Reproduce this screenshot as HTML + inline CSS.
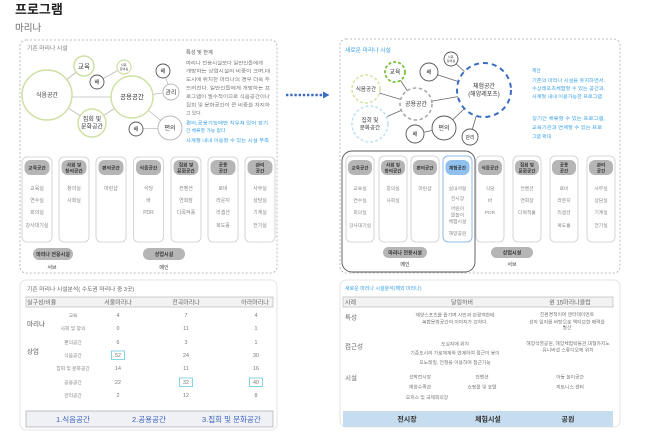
<!DOCTYPE html>
<html><head><meta charset="utf-8">
<style>
html,body{margin:0;padding:0;background:#fff;width:650px;height:433px;overflow:hidden}
svg{display:block}
text{font-family:"Liberation Sans","Noto Sans CJK KR",sans-serif}
</style></head>
<body>
<svg width="650" height="433" viewBox="0 0 650 433" xmlns="http://www.w3.org/2000/svg">
<rect width="650" height="433" fill="#fff"/>

<!-- Title -->
<text x="15" y="14" font-size="13" font-weight="bold" fill="#222">프로그램</text>
<text x="15" y="31" font-size="9.5" fill="#666">마리나</text>

<!-- Dashed boxes -->
<rect x="20" y="40" width="257" height="233" rx="6" fill="none" stroke="#aaa" stroke-width="0.8" stroke-dasharray="2,2"/>
<rect x="340" y="39" width="280" height="234" rx="6" fill="none" stroke="#aaa" stroke-width="0.8" stroke-dasharray="2,2"/>

<!-- Arrow -->
<line x1="286" y1="95" x2="323" y2="95" stroke="#3b6cc4" stroke-width="2.4" stroke-dasharray="2.4,1.8"/>
<polygon points="323,91.5 329.5,95 323,98.5" fill="#3b6cc4"/>

<!-- LEFT: label -->
<text x="27" y="50" font-size="5.8" fill="#777">기존 마리나 시설</text>

<!-- LEFT circles -->
<g stroke="#bbb" stroke-width="0.8">
<line x1="47" y1="95" x2="84" y2="66"/>
<line x1="47" y1="97" x2="132" y2="97"/>
<line x1="47" y1="95" x2="92" y2="123"/>
<line x1="92" y1="123" x2="132" y2="97"/>
<line x1="97" y1="82" x2="124" y2="67"/>
<line x1="132" y1="97" x2="171" y2="92"/>
<line x1="171" y1="92" x2="163" y2="71"/>
<line x1="132" y1="97" x2="170" y2="128"/>
<line x1="170" y1="128" x2="136" y2="129"/>
</g>
<g fill="#fff" stroke="#cfe0a6" stroke-width="1.5">
<circle cx="47" cy="95" r="25"/>
<circle cx="84" cy="66" r="10"/>
<circle cx="124" cy="67" r="7" stroke-width="1.2"/>
<circle cx="132" cy="97" r="21"/>
<circle cx="92" cy="123" r="14"/>
</g>
<g fill="#fff" stroke="#555" stroke-width="0.9">
<circle cx="97" cy="82" r="7"/>
<circle cx="163" cy="71" r="7"/>
<circle cx="136" cy="129" r="7"/>
</g>
<g fill="#fff" stroke="#bbb" stroke-width="1">
<circle cx="171" cy="92" r="8"/>
<circle cx="170" cy="128" r="12"/>
</g>
<g fill="#333" text-anchor="middle">
<text x="47" y="97" font-size="6">식음공간</text>
<text x="84" y="68.5" font-size="6.5">교육</text>
<text x="124" y="66" font-size="3">사회,</text>
<text x="124" y="70" font-size="3">창의실</text>
<text x="97" y="84" font-size="5.5">배</text>
<text x="132" y="99.2" font-size="6.5">공용공간</text>
<text x="92" y="121" font-size="6">집회 및</text>
<text x="92" y="128.5" font-size="6">문화공간</text>
<text x="163" y="73" font-size="5.5">배</text>
<text x="171" y="94.3" font-size="6">관리</text>
<text x="170" y="130.2" font-size="6">편의</text>
<text x="136" y="131" font-size="5.5">배</text>
</g>

<!-- LEFT paragraph -->
<text x="186" y="54" font-size="5.2" fill="#555">특성 및 한계</text>
<g font-size="4.8" fill="#777" lengthAdjust="spacingAndGlyphs">
<text x="186" y="64.3" textLength="77" lengthAdjust="spacingAndGlyphs">마리나 전용시설보다 일반인들에게</text>
<text x="186" y="72.7" textLength="84" lengthAdjust="spacingAndGlyphs">개방하는 상업시설의 비중이 크며,대</text>
<text x="186" y="81.1" textLength="84" lengthAdjust="spacingAndGlyphs">도시에 위치한 마리나의 경우 더욱 두</text>
<text x="186" y="89.5" textLength="84" lengthAdjust="spacingAndGlyphs">드러진다. 일반인들에게 개방하는 프</text>
<text x="186" y="97.9" textLength="84" lengthAdjust="spacingAndGlyphs">로그램이 필수적이므로 식음공간이나</text>
<text x="186" y="106.3" textLength="84" lengthAdjust="spacingAndGlyphs">집회 및 문화공간이 큰 비중을 차지하</text>
<text x="186" y="114.7">고 있다.</text>
</g>
<g font-size="4.8" fill="#3aa0e6">
<text x="186" y="124.3" textLength="82" lengthAdjust="spacingAndGlyphs">편의,공용기능에만 치우쳐 있어 장기</text>
<text x="186" y="132">간 체류할 가능 없다.</text>
<text x="186" y="142" textLength="83" lengthAdjust="spacingAndGlyphs">사계절 내내 이용할 수 있는 시설 부족</text>
</g>

<!-- LEFT columns -->
<g fill="#fff" stroke="#ccc" stroke-width="0.8">
<rect x="22" y="157" width="30" height="85" rx="5"/>
<rect x="59" y="157" width="30" height="85" rx="5"/>
<rect x="96" y="157" width="30" height="85" rx="5"/>
<rect x="133.5" y="157" width="30" height="85" rx="5"/>
<rect x="171" y="157" width="30" height="85" rx="5"/>
<rect x="208" y="157" width="30" height="85" rx="5"/>
<rect x="245" y="157" width="30" height="85" rx="5"/>
</g>
<g fill="#b5b5b5">
<rect x="24.5" y="160" width="25" height="15" rx="6"/>
<rect x="61.5" y="160" width="25" height="15" rx="6"/>
<rect x="98.5" y="160" width="25" height="15" rx="6"/>
<rect x="136" y="160" width="25" height="15" rx="6"/>
<rect x="173.5" y="160" width="25" height="15" rx="6"/>
<rect x="210.5" y="160" width="25" height="15" rx="6"/>
<rect x="247.5" y="160" width="25" height="15" rx="6"/>
</g>
<g fill="#333" font-size="4.8" font-weight="bold" text-anchor="middle">
<text x="37" y="169.5">교육공간</text>
<text x="74" y="166.5">사회 및</text><text x="74" y="172.5">창의공간</text>
<text x="111" y="169.5">편의공간</text>
<text x="148.5" y="169.5">식음공간</text>
<text x="186" y="166.5">집회 및</text><text x="186" y="172.5">문화공간</text>
<text x="223" y="166.5">공용</text><text x="223" y="172.5">공간</text>
<text x="260" y="166.5">관리</text><text x="260" y="172.5">공간</text>
</g>
<g fill="#888" font-size="5" text-anchor="middle">
<text x="37" y="190">교육실</text><text x="37" y="202">연수실</text><text x="37" y="214">회의실</text><text x="37" y="227">강사대기실</text>
<text x="74" y="190">창의실</text><text x="74" y="202">사회실</text>
<text x="111" y="190">마린샵</text>
<text x="148.5" y="190">식당</text><text x="148.5" y="202">바</text><text x="148.5" y="214">PDR</text>
<text x="186" y="190">컨벤션</text><text x="186" y="202">연회장</text><text x="186" y="214">다목적홀</text>
<text x="223" y="190">로비</text><text x="223" y="202">라운지</text><text x="223" y="214">리셉션</text><text x="223" y="227">복도홀</text>
<text x="260" y="190">사무실</text><text x="260" y="202">상담실</text><text x="260" y="214">기계실</text><text x="260" y="227">전기실</text>
</g>
<rect x="33" y="248" width="40" height="12" rx="6" fill="#b5b5b5"/>
<rect x="143" y="248" width="42" height="12" rx="6" fill="#b5b5b5"/>
<g fill="#333" font-size="5" text-anchor="middle">
<text x="53" y="255.8" font-weight="bold">마리나 전용시설</text>
<text x="164" y="255.8" font-weight="bold">상업시설</text>
<text x="52" y="269">서브</text>
<text x="164" y="269">메인</text>
</g>

<!-- RIGHT: label -->
<text x="345" y="52" font-size="5.8" fill="#3aa0e6">새로운 마리나 시설</text>

<!-- RIGHT circles -->
<g stroke="#666" stroke-width="0.8">
<line x1="416" y1="104" x2="395" y2="72"/>
<line x1="416" y1="104" x2="366" y2="89"/>
<line x1="416" y1="104" x2="370" y2="124"/>
<line x1="416" y1="104" x2="484" y2="92"/>
<line x1="429" y1="72" x2="484" y2="90"/>
<line x1="451" y1="59" x2="484" y2="90"/>
<line x1="444" y1="128" x2="484" y2="90"/>
<line x1="444" y1="128" x2="415" y2="134"/>
<line x1="470" y1="137" x2="484" y2="90"/>
</g>
<g fill="#fff">
<circle cx="395" cy="72" r="10" stroke="#7cc142" stroke-width="1.8" stroke-dasharray="3,2"/>
<circle cx="366" cy="89" r="14" stroke="#d4e6a8" stroke-width="1.6" stroke-dasharray="3,2"/>
<circle cx="370" cy="124" r="18" stroke="#c2e4f2" stroke-width="1.6" stroke-dasharray="3,2"/>
<circle cx="416" cy="104" r="16" stroke="#aaa" stroke-width="1.6" stroke-dasharray="3.5,2.5"/>
<circle cx="484" cy="90" r="27" stroke="#3b6cc4" stroke-width="2" stroke-dasharray="5,4"/>
</g>
<g fill="#fff" stroke="#555" stroke-width="0.9">
<circle cx="429" cy="72" r="9"/>
<circle cx="451" cy="59" r="7"/>
<circle cx="444" cy="128" r="12"/>
<circle cx="415" cy="134" r="9"/>
<circle cx="470" cy="137" r="8"/>
</g>
<g fill="#333" text-anchor="middle">
<text x="395" y="74" font-size="6">교육</text>
<text x="366" y="91" font-size="5.5">식음공간</text>
<text x="370" y="122" font-size="5.5">집회 및</text>
<text x="370" y="129.5" font-size="5.5">문화공간</text>
<text x="416" y="106" font-size="6">공용공간</text>
<text x="484" y="88" font-size="6">체험공간</text>
<text x="484" y="96" font-size="6">(해양레포츠)</text>
<text x="429" y="74" font-size="5.5">배</text>
<text x="451" y="58" font-size="3">사회,</text>
<text x="451" y="62" font-size="3">창의실</text>
<text x="444" y="130" font-size="6">편의</text>
<text x="415" y="136" font-size="5.5">배</text>
<text x="470" y="139" font-size="5">관리</text>
</g>

<!-- RIGHT paragraph -->
<g font-size="4.8" fill="#3aa0e6">
<text x="532" y="72">제안</text>
<text x="532" y="82" textLength="73" lengthAdjust="spacingAndGlyphs">기존의 마리나 시설을 유지하면서,</text>
<text x="532" y="90" textLength="73" lengthAdjust="spacingAndGlyphs">수상레포츠체험할 수 있는 공간과,</text>
<text x="532" y="98" textLength="70" lengthAdjust="spacingAndGlyphs">사계절 내내 이용가능한 프로그램</text>
<text x="532" y="120" textLength="73" lengthAdjust="spacingAndGlyphs">장기간 체류할 수 있는 프로그램,</text>
<text x="532" y="129" textLength="70" lengthAdjust="spacingAndGlyphs">교육기관과 연계할 수 있는 프로</text>
<text x="532" y="138">그램 확대</text>
</g>

<!-- RIGHT columns -->
<rect x="342" y="151" width="133" height="121" rx="10" fill="none" stroke="#555" stroke-width="0.9"/>
<g fill="#fff" stroke="#ccc" stroke-width="0.8">
<rect x="346" y="156" width="28" height="86" rx="5"/>
<rect x="379" y="156" width="28" height="86" rx="5"/>
<rect x="411" y="156" width="28" height="86" rx="5"/>
<rect x="443" y="156" width="29" height="86" rx="5" stroke="#8cbbe8" stroke-width="1"/>
<rect x="476" y="156" width="28" height="86" rx="5"/>
<rect x="513" y="156" width="28" height="86" rx="5"/>
<rect x="550" y="156" width="28" height="86" rx="5"/>
<rect x="587" y="156" width="28" height="86" rx="5"/>
</g>
<g fill="#b5b5b5">
<rect x="348" y="160" width="24" height="15" rx="6"/>
<rect x="381" y="160" width="24" height="15" rx="6"/>
<rect x="413" y="160" width="24" height="15" rx="6"/>
<rect x="445.5" y="160" width="24" height="15" rx="6" fill="#8fc0ee"/>
<rect x="478" y="160" width="24" height="15" rx="6"/>
<rect x="515" y="160" width="24" height="15" rx="6"/>
<rect x="552" y="160" width="24" height="15" rx="6"/>
<rect x="589" y="160" width="24" height="15" rx="6"/>
</g>
<g fill="#333" font-size="4.6" font-weight="bold" text-anchor="middle">
<text x="360" y="169.5">교육공간</text>
<text x="393" y="166.5">사회 및</text><text x="393" y="172.5">창의공간</text>
<text x="425" y="169.5">편의공간</text>
<text x="457.5" y="169.5">체험공간</text>
<text x="490" y="169.5">식음공간</text>
<text x="527" y="166.5">집회 및</text><text x="527" y="172.5">문화공간</text>
<text x="564" y="166.5">공용</text><text x="564" y="172.5">공간</text>
<text x="601" y="166.5">관리</text><text x="601" y="172.5">공간</text>
</g>
<g fill="#888" font-size="4.8" text-anchor="middle">
<text x="360" y="190">교육실</text><text x="360" y="202">연수실</text><text x="360" y="214">회의실</text><text x="360" y="227">강사대기실</text>
<text x="393" y="190">창의실</text><text x="393" y="202">사회실</text>
<text x="425" y="190">마린샵</text>
<text x="457.5" y="190">실내서핑</text><text x="457.5" y="200">전시장</text><text x="457.5" y="210">어린이</text><text x="457.5" y="216.5">물놀이</text><text x="457.5" y="223">체험시설</text><text x="457.5" y="235">해양공원</text>
<text x="490" y="190">식당</text><text x="490" y="202">바</text><text x="490" y="214">PDR</text>
<text x="527" y="190">컨벤션</text><text x="527" y="202">연회장</text><text x="527" y="214">다목적홀</text>
<text x="564" y="190">로비</text><text x="564" y="202">라운지</text><text x="564" y="214">리셉션</text><text x="564" y="227">복도홀</text>
<text x="601" y="190">사무실</text><text x="601" y="202">상담실</text><text x="601" y="214">기계실</text><text x="601" y="227">전기실</text>
</g>
<rect x="383" y="247" width="44" height="11" rx="5.5" fill="#b5b5b5"/>
<rect x="491" y="247" width="42" height="11" rx="5.5" fill="#b5b5b5"/>
<g fill="#333" font-size="5" text-anchor="middle">
<text x="405" y="254.3" font-weight="bold">마리나 전용시설</text>
<text x="512" y="254.3" font-weight="bold">상업시설</text>
<text x="405" y="266">메인</text>
<text x="512" y="266">서브</text>
</g>

<!-- BOTTOM LEFT panel -->
<rect x="20" y="280" width="257" height="150" rx="6" fill="#fff" stroke="#ddd" stroke-width="0.8"/>
<text x="27" y="291" font-size="5.8" fill="#666">기존 마리나 시설분석( 수도권 마리나 중 3곳)</text>
<rect x="26" y="297" width="247" height="10" fill="#f2f2f2" stroke="#bbb" stroke-width="0.7"/>
<g fill="#666" font-size="6">
<text x="27" y="304.5">실구성/비율</text>
<text x="118" y="304.5" text-anchor="middle">서울마리나</text>
<text x="186" y="304.5" text-anchor="middle">전곡마리나</text>
<text x="255" y="304.5" text-anchor="middle">아라마리나</text>
</g>
<g fill="#555" font-size="6.5">
<text x="27" y="326">마리나</text>
<text x="27" y="353.5">상업</text>
</g>
<g fill="#888" font-size="4.8" text-anchor="middle">
<text x="73" y="317">교육</text>
<text x="73" y="330">사회 및 창의</text>
<text x="73" y="344">편의공간</text>
<text x="73" y="357">식음공간</text>
<text x="73" y="370">집회 및 문화공간</text>
<text x="73" y="384">공용공간</text>
<text x="73" y="397">관리공간</text>
</g>
<g fill="#777" font-size="5.3" text-anchor="middle">
<text x="118" y="317">4</text><text x="186" y="317">7</text><text x="256" y="317">4</text>
<text x="118" y="330">0</text><text x="186" y="330">11</text><text x="256" y="330">1</text>
<text x="118" y="344">6</text><text x="186" y="344">3</text><text x="256" y="344">1</text>
<text x="118" y="357">52</text><text x="186" y="357">24</text><text x="256" y="357">30</text>
<text x="118" y="370">14</text><text x="186" y="370">11</text><text x="256" y="370">16</text>
<text x="118" y="384">22</text><text x="186" y="384">32</text><text x="256" y="384">40</text>
<text x="118" y="397">2</text><text x="186" y="397">12</text><text x="256" y="397">8</text>
</g>
<g fill="none" stroke="#6cc8e0" stroke-width="0.8">
<rect x="111.5" y="351" width="13" height="8.5"/>
<rect x="179.5" y="378" width="13" height="8.5"/>
<rect x="249.5" y="378" width="13" height="8.5"/>
</g>
<rect x="26" y="411" width="247" height="16" fill="#eff1f5" stroke="#aaa" stroke-width="0.7"/>
<g fill="#3a5ec0" font-size="7.5">
<text x="56" y="422">1.식음공간</text>
<text x="132" y="422">2.공용공간</text>
<text x="202" y="422">3.집회 및 문화공간</text>
</g>

<!-- BOTTOM RIGHT panel -->
<rect x="340" y="280" width="280" height="147" rx="6" fill="#fff" stroke="#ddd" stroke-width="0.8"/>
<text x="345" y="290" font-size="5" fill="#3aa0e6">새로운 마리나 시설분석(해외 마리나)</text>
<rect x="343" y="297" width="270" height="10" fill="#f2f2f2" stroke="#bbb" stroke-width="0.7"/>
<g fill="#666" font-size="6">
<text x="345" y="304.5">사례</text>
<text x="462" y="304.5" text-anchor="middle">달링하버</text>
<text x="570" y="304.5" text-anchor="middle">원 15마리나클럽</text>
</g>
<g fill="#666" font-size="6.5">
<text x="345" y="319.5">특성</text>
<text x="345" y="348.5">접근성</text>
<text x="345" y="380">시설</text>
</g>
<g fill="#777" font-size="4.8" text-anchor="middle">
<text x="455" y="316.7">해양스포츠를 즐기며 시민과 관광객한테</text>
<text x="455" y="323.5">복합문화공간의 이미지가 강하다.</text>
<text x="567" y="316">친환경적이며 엔터테이먼트</text>
<text x="567" y="323.5">성의 입지를 바탕으로 액티브한 매력을</text>
<text x="567" y="329">발산</text>
<text x="455" y="345.7">도심지에 위치</text>
<text x="455" y="354.5">기존도시의 가로체계와 연계하여 접근이 용이</text>
<text x="455" y="364">모노레일, 전철을 이용하여 접근가능</text>
<text x="568" y="345">해양석영공원, 해양체험박물관,대형카지노</text>
<text x="568" y="351.7">유니버셜 스튜디오에 위치</text>
<text x="420" y="378.5">선박전시장</text>
<text x="420" y="388.5">해양수족관</text>
<text x="427" y="399">오피스 및 국제회의장</text>
<text x="482" y="378.5">컨벤션</text>
<text x="482" y="388.5">쇼핑몰 및 호텔</text>
<text x="570" y="378.5">아동 놀이공간</text>
<text x="570" y="388.5">피트니스 센터</text>
</g>
<rect x="343" y="411" width="270" height="16" fill="#c6ddf0"/>
<g fill="#333" font-size="7" font-weight="bold" text-anchor="middle">
<text x="407" y="421.5">전시장</text>
<text x="488" y="421.5">체험시설</text>
<text x="568" y="421.5">공원</text>
</g>
</svg>
</body></html>
